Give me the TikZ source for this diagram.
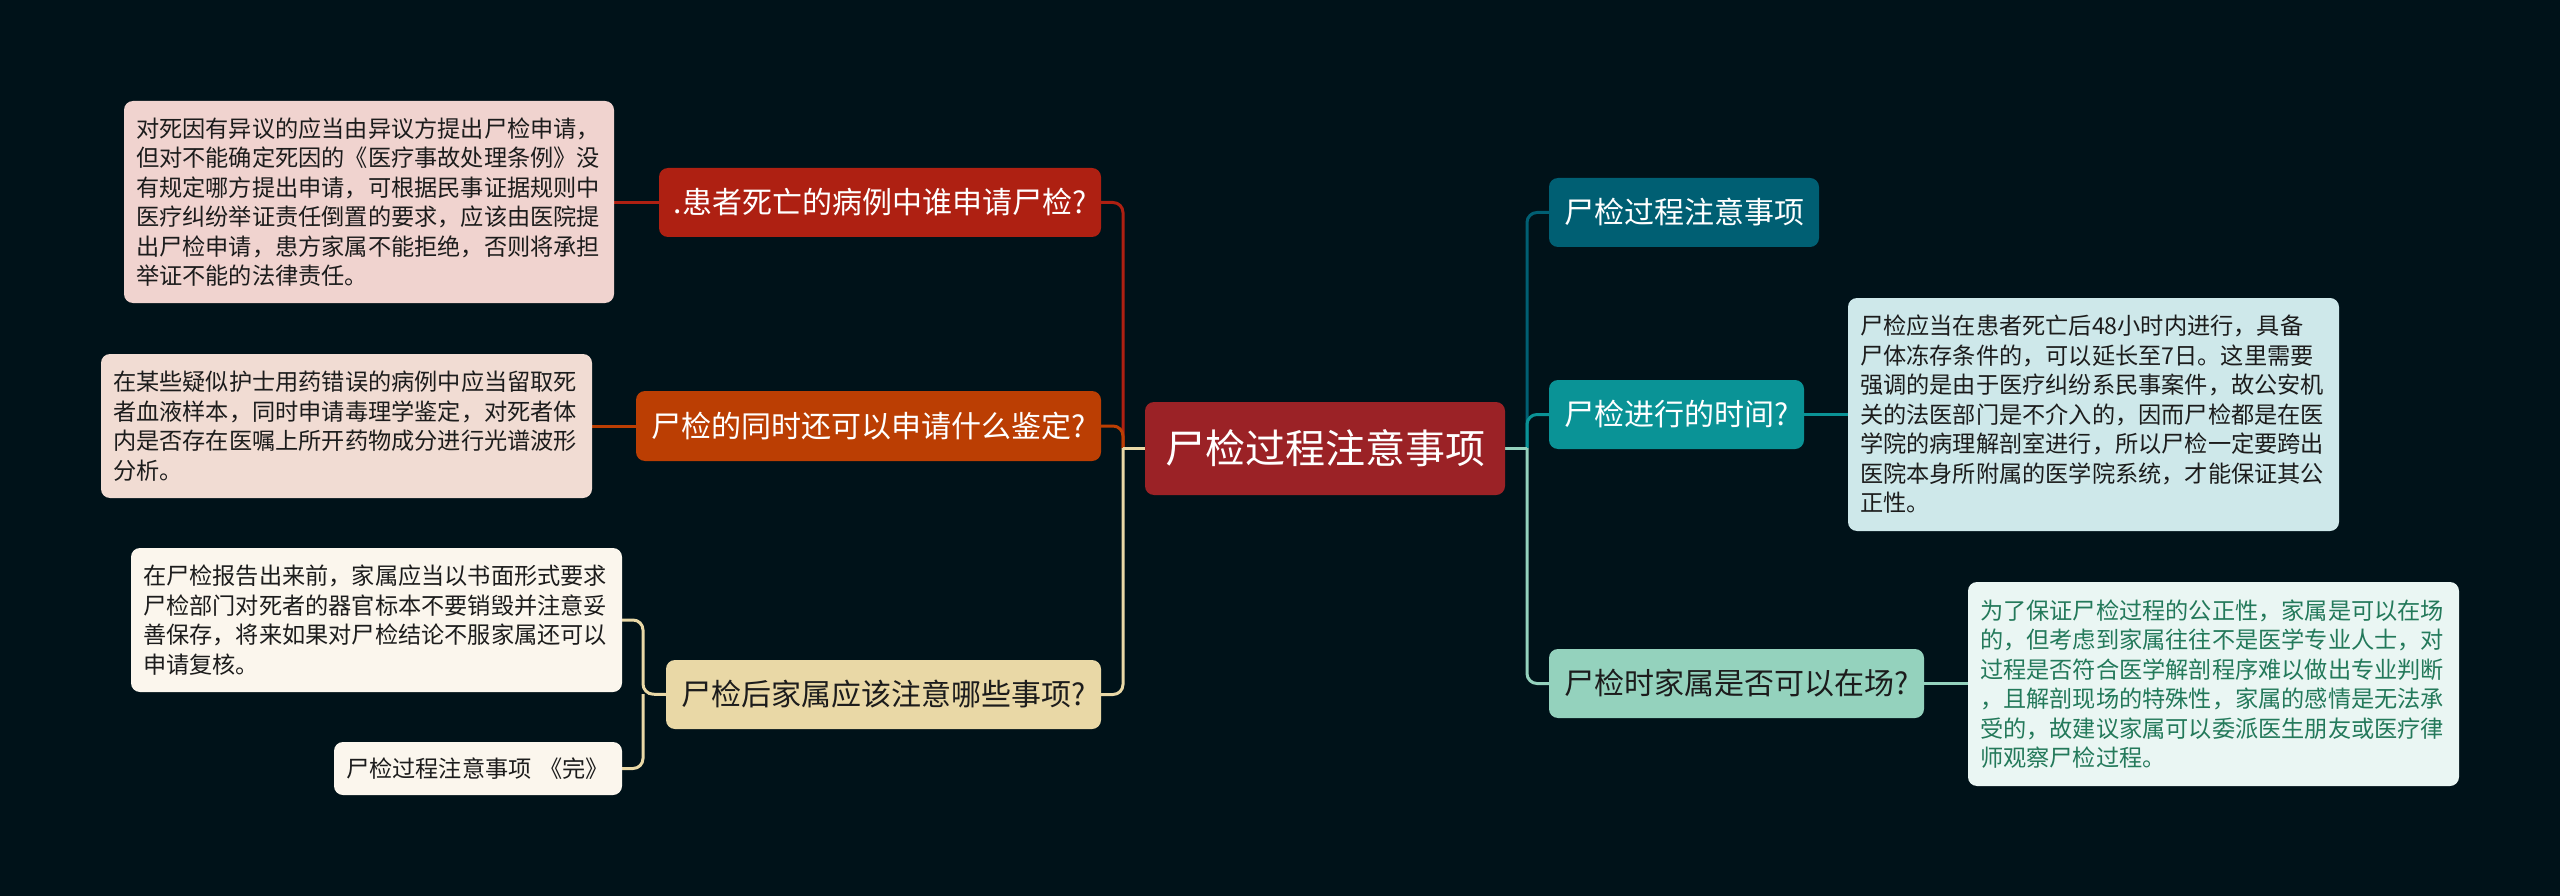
\documentclass[tikz,border=0pt]{standalone}
\usepackage{fontspec}
\setmainfont{Noto Sans CJK SC}
\definecolor{bgc}{HTML}{001219}
\definecolor{cen}{HTML}{9B2226}
\definecolor{bra}{HTML}{AE2012}
\definecolor{brb}{HTML}{BB3E03}
\definecolor{brc}{HTML}{E9D8A6}
\definecolor{rra}{HTML}{005F73}
\definecolor{rrb}{HTML}{0A9396}
\definecolor{rrc}{HTML}{94D2BD}
\definecolor{fla}{HTML}{F0D3CF}
\definecolor{flb}{HTML}{F1DCD3}
\definecolor{flc}{HTML}{FBF6ED}
\definecolor{frb}{HTML}{CEE8EA}
\definecolor{frc}{HTML}{EAF6F3}
\definecolor{txt}{HTML}{1C1C1C}
\definecolor{gtx}{HTML}{23795A}
\pgfdeclarelayer{under}
\pgfsetlayers{under,main}
\begin{document}
\begin{tikzpicture}[x=1pt,y=-1pt,
  box/.style={rounded corners=9pt, inner sep=0pt, align=center, minimum height=69pt, text=white, font=\fontsize{30pt}{36pt}\selectfont},
  leaf/.style={rounded corners=9pt, inner xsep=12pt, inner ysep=0pt, align=left, font=\fontsize{23.2pt}{29.5pt}\selectfont, text=txt},
  conn/.style={line width=3pt, rounded corners=10pt}
]
\begin{pgfonlayer}{under}
\fill[bgc] (0,0) rectangle (2560,896);
\end{pgfonlayer}
\useasboundingbox (0,0) rectangle (2560,896);

% center
\node[box, fill=cen, minimum width=360pt, minimum height=93pt, font=\fontsize{40pt}{46pt}\selectfont] (c) at (1325,448.5) {尸检过程注意事项};

% left branches
\node[box, fill=bra, minimum width=442pt] (b1) at (880,202.5) {.患者死亡的病例中谁申请尸检?};
\node[box, fill=brb, minimum width=465pt, minimum height=70pt] (b2) at (868.5,426) {尸检的同时还可以申请什么鉴定?};
\node[box, fill=brc, minimum width=435pt, text=txt] (b3) at (883.5,694.5) {尸检后家属应该注意哪些事项?};

% right branches
\node[box, fill=rra, minimum width=270pt] (r1) at (1684,212.5) {尸检过程注意事项};
\node[box, fill=rrb, minimum width=255pt] (r2) at (1676.5,414.5) {尸检进行的时间?};
\node[box, fill=rrc, minimum width=375pt, text=txt] (r3) at (1736.5,683.5) {尸检时家属是否可以在场?};

% left leaves
\node[leaf, fill=fla, text width=466pt, minimum height=202pt] (l1) at (369,202) {对死因有异议的应当由异议方提出尸检申请，\\但对不能确定死因的《医疗事故处理条例》没\\有规定哪方提出申请，可根据民事证据规则中\\医疗纠纷举证责任倒置的要求，应该由医院提\\出尸检申请，患方家属不能拒绝，否则将承担\\举证不能的法律责任。};
\node[leaf, fill=flb, text width=467pt, minimum height=144pt] (l2) at (346.5,426) {在某些疑似护士用药错误的病例中应当留取死\\者血液样本，同时申请毒理学鉴定，对死者体\\内是否存在医嘱上所开药物成分进行光谱波形\\分析。};
\node[leaf, fill=flc, text width=467pt, minimum height=144pt] (l3a) at (376.5,620) {在尸检报告出来前，家属应当以书面形式要求\\尸检部门对死者的器官标本不要销毁并注意妥\\善保存，将来如果对尸检结论不服家属还可以\\申请复核。};
\node[leaf, fill=flc, text width=264pt, minimum height=53pt] (l3b) at (478,768.5) {尸检过程注意事项 《完》};

% right leaves
\node[leaf, fill=frb, text width=467pt, minimum height=233pt] (rl2) at (2093.5,414.5) {尸检应当在患者死亡后48小时内进行，具备\\尸体冻存条件的，可以延长至7日。这里需要\\强调的是由于医疗纠纷系民事案件，故公安机\\关的法医部门是不介入的，因而尸检都是在医\\学院的病理解剖室进行，所以尸检一定要跨出\\医院本身所附属的医学院系统，才能保证其公\\正性。};
\node[leaf, fill=frc, text=gtx, text width=467pt, minimum height=204pt] (rl3) at (2213.5,684) {为了保证尸检过程的公正性，家属是可以在场\\的，但考虑到家属往往不是医学专业人士，对\\过程是否符合医学解剖程序难以做出专业判断\\，且解剖现场的特殊性，家属的感情是无法承\\受的，故建议家属可以委派医生朋友或医疗律\\师观察尸检过程。};

\coordinate (lj) at (1123,448);
\coordinate (rj) at (1527,448);
\coordinate (lj3) at (643,694);

\begin{pgfonlayer}{under}
\draw[conn, bra] (lj) |- (b1.east);
\draw[conn, brb] (lj) |- (b2.east);
\draw[conn, brc] (lj) |- (b3.east);
\draw[line width=3pt, brc] (c.west |- lj) -- (lj);
\draw[conn, rra] (rj) |- (r1.west);
\draw[conn, rrb] (rj) |- (r2.west);
\draw[conn, rrc] (rj) |- (r3.west);
\draw[line width=3pt, rrc] (c.east |- rj) -- (rj);
\draw[line width=3pt, bra] (b1.west) -- (b1.west -| l1.east);
\draw[line width=3pt, brb] (b2.west) -- (b2.west -| l2.east);
\draw[conn, brc] (b3.west) -- (lj3) |- (l3a.east);
\draw[conn, brc] (lj3) |- (l3b.east);
\draw[line width=3pt, rrb] (r2.east) -- (r2.east -| rl2.west);
\draw[line width=3pt, rrc] (r3.east) -- (r3.east -| rl3.west);
\end{pgfonlayer}
\end{tikzpicture}
\end{document}
